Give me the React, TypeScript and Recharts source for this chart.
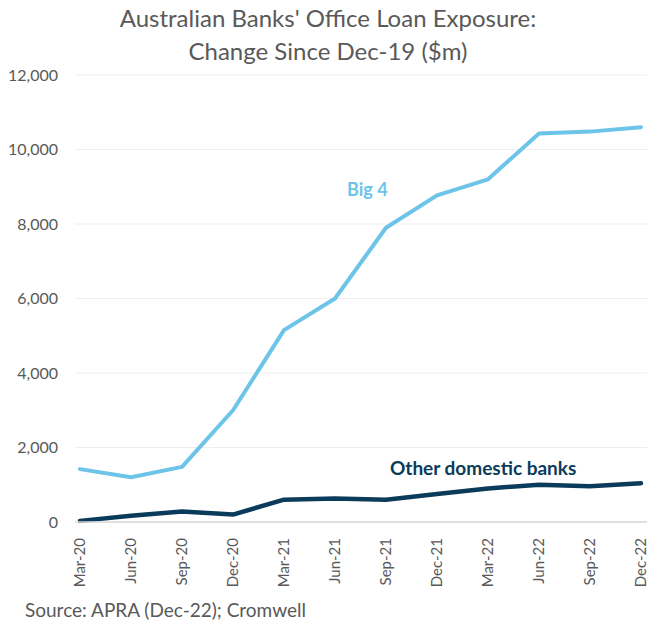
import { LineChart, Line, XAxis, YAxis, CartesianGrid } from 'recharts'

const quarters = ['Mar-20', 'Jun-20', 'Sep-20', 'Dec-20', 'Mar-21', 'Jun-21', 'Sep-21', 'Dec-21', 'Mar-22', 'Jun-22', 'Sep-22', 'Dec-22']
const big4 = [1420, 1200, 1480, 3000, 5150, 6000, 7900, 8770, 9200, 10430, 10480, 10600]
const otherDomestic = [30, 170, 280, 200, 600, 630, 600, 750, 900, 1000, 960, 1040]
const yTicks = [0, 2000, 4000, 6000, 8000, 10000, 12000]

const data = quarters.map((q, i) => ({ q, big4: big4[i], other: otherDomestic[i] }))

const font = 'Lato, "Open Sans", sans-serif'
const grey = '#595959'
const lightBlue = '#6CC4E8'
const navy = '#0B3B5B'

function XTick({ x, y, payload }: { x?: number; y?: number; payload?: { value: string } }) {
  return (
    <text
      x={0}
      y={0}
      dy="0.3em"
      transform={`translate(${x},${(y ?? 0) + 8}) rotate(-90)`}
      textAnchor="end"
      fill={grey}
      fontSize={15}
      fontFamily={font}
    >
      {payload?.value}
    </text>
  )
}

export default function App() {
  return (
    <div style={{ position: 'absolute', top: 0, left: 0, width: 648, height: 620, overflow: 'hidden', background: '#fff', fontFamily: font }}>
      <div style={{ position: 'absolute', top: 1, left: 0, width: 656, textAlign: 'center', color: grey, fontSize: 24, lineHeight: '33px' }}>
        Australian Banks' Office Loan Exposure:<br />Change Since Dec-19 ($m)
      </div>
      <LineChart width={648} height={600} data={data} margin={{ top: 75, right: 1, left: 0, bottom: 20 }}>
        <CartesianGrid vertical={false} stroke="#eeeeee" />
        <XAxis
          dataKey="q"
          interval={0}
          padding={{ left: 5, right: 6 }}
          tick={<XTick />}
          tickLine={false}
          axisLine={{ stroke: '#d9d9d9', strokeWidth: 1.5 }}
          height={58}
        />
        <YAxis
          domain={[0, 12000]}
          ticks={yTicks}
          width={75}
          axisLine={false}
          tickLine={false}
          tickMargin={11}
          tickFormatter={(v: number) => v.toLocaleString('en-US')}
          tick={{ fill: grey, fontSize: 16, fontFamily: font }}
        />
        <Line dataKey="big4" stroke={lightBlue} strokeWidth={4} dot={false} isAnimationActive={false} strokeLinecap="round" strokeLinejoin="round" />
        <Line dataKey="other" stroke={navy} strokeWidth={4.5} dot={false} isAnimationActive={false} strokeLinecap="round" strokeLinejoin="round" />
      </LineChart>
      <div style={{ position: 'absolute', left: 347, top: 178, color: lightBlue, fontWeight: 700, fontSize: 18 }}>Big 4</div>
      <div style={{ position: 'absolute', left: 390, top: 456, color: navy, fontWeight: 700, fontSize: 19 }}>Other domestic banks</div>
      <div style={{ position: 'absolute', left: 25, top: 598, color: grey, fontSize: 19, lineHeight: '23px' }}>Source: APRA (Dec-22); Cromwell</div>
    </div>
  )
}
